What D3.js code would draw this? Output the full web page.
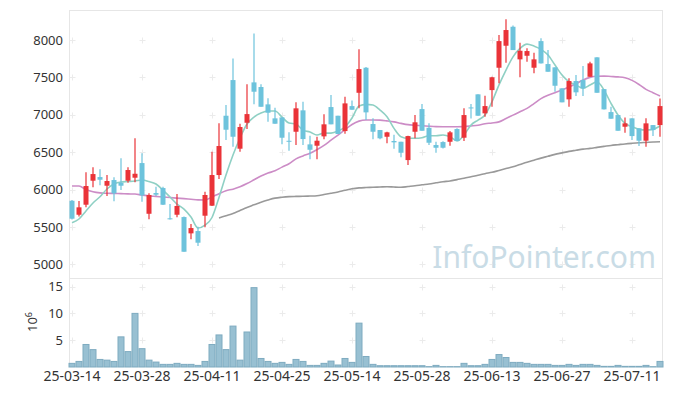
<!DOCTYPE html>
<html>
<head>
<meta charset="utf-8">
<script src="https://cdn.jsdelivr.net/npm/d3@7"></script>
<style>
  body { margin: 0; background: #fff; }
  text { font-family: "Noto Sans", sans-serif; }
</style>
</head>
<body>
<div id="chart"></div>
<script>
// trading days shown on the chart
const dates = [
  "25-03-14","25-03-17","25-03-18","25-03-19","25-03-20","25-03-21","25-03-24","25-03-25","25-03-26","25-03-27",
  "25-03-28","25-03-31","25-04-01","25-04-02","25-04-03","25-04-04","25-04-07","25-04-08","25-04-09","25-04-10",
  "25-04-11","25-04-14","25-04-15","25-04-16","25-04-17","25-04-18","25-04-21","25-04-22","25-04-23","25-04-24",
  "25-04-25","25-04-28","25-04-29","25-04-30","25-05-02","25-05-07","25-05-08","25-05-09","25-05-12","25-05-13",
  "25-05-14","25-05-15","25-05-16","25-05-19","25-05-20","25-05-21","25-05-22","25-05-23","25-05-26","25-05-27",
  "25-05-28","25-05-29","25-05-30","25-06-02","25-06-04","25-06-05","25-06-09","25-06-10","25-06-11","25-06-12",
  "25-06-13","25-06-16","25-06-17","25-06-18","25-06-19","25-06-20","25-06-23","25-06-24","25-06-25","25-06-26",
  "25-06-27","25-06-30","25-07-01","25-07-02","25-07-03","25-07-04","25-07-07","25-07-08","25-07-09","25-07-10",
  "25-07-11","25-07-14","25-07-15","25-07-16","25-07-17"
];

const opens = [
  5850,5663,5797,6118,6167,6051,6127,6091,6118,6158, 6354,5676,5953,6020,5615,5663,5632,5414,5445,5650,
  5784,6194,6987,7464,6546,6893,7433,7371,7139,6952, 6965,6652,6773,7059,6604,6586,6711,7103,6987,6782,
  7116,7294,7629,6876,6796,6706,6649,6639,6394,6773, 7076,6826,6595,6635,6639,6809,6693,7098,7273,7019,
  7330,7629,7923,8177,7741,7789,7629,7985,7678,7634, 7353,7206,7451,7464,7508,7768,7343,7036,6996,6840,
  6952,6818,6653,6862,6862
];
const highs = [
  5860,5846,6230,6297,6270,6194,6163,6417,6297,6685, 6484,5949,6038,6038,5806,5940,5640,5539,5503,5971,
  6506,6885,7130,7754,6880,7407,8088,7407,7220,7094, 6965,6765,7166,7174,6720,6706,7006,7264,6987,7241,
  7190,7875,7640,6952,6796,6773,6733,6639,6720,6996, 7143,6885,6639,6645,6782,6818,7086,7143,7273,7254,
  7510,8066,8276,8195,7963,7888,7829,8022,7865,7634, 7353,7487,7531,7651,7710,7768,7343,7107,6996,6965,
  6952,6818,6952,6862,7219
];
const lows = [
  5600,5640,5762,6030,6056,5913,5842,5993,6091,6096, 5837,5602,5913,5793,5600,5628,5168,5334,5245,5495,
  5780,6140,6662,6572,6506,6809,7139,7107,6907,6880, 6604,6519,6595,6595,6404,6404,6671,6872,6742,6746,
  7067,7086,6929,6671,6671,6618,6546,6431,6328,6685, 6786,6595,6492,6550,6586,6649,6649,6951,6987,6973,
  7107,7420,7696,7865,7500,7709,7554,7687,7575,7308, 7166,7107,7250,7250,7508,7294,7072,6947,6786,6760,
  6662,6582,6572,6715,6706
];
const closes = [
  5610,5762,6047,6207,6131,6114,5949,6051,6261,6211, 5922,5927,5931,5797,5605,5780,5168,5485,5289,5927,
  6194,6582,6800,6706,6836,7009,7308,7107,7027,6880, 6693,6645,7086,6675,6532,6653,6872,6872,6742,7152,
  7067,7611,7032,6773,6685,6765,6631,6492,6715,6899, 6786,6626,6559,6559,6765,6649,6996,7090,6987,7116,
  7501,7985,8133,7865,7856,7852,7741,7687,7575,7388, 7166,7451,7300,7353,7687,7294,7072,6947,6786,6885,
  6715,6653,6885,6795,7116
];
// volume, millions of shares
const volumes = [
  0.68,1.04,4.2,3.24,1.41,1.28,1.04,5.62,2.87,10.0, 3.42,1.28,0.92,0.49,0.49,0.68,0.49,0.49,0.3,1.04,
  4.2,5.98,3.24,7.63,1.28,6.53,14.8,1.59,1.04,0.68, 0.86,0.49,1.41,1.04,0.3,0.3,0.68,1.1,0.37,1.59,
  0.86,8.18,1.96,0.49,0.24,0.24,0.24,0.24,0.24,0.24, 0.24,0.06,0.3,0.06,0.06,0.06,0.68,0.24,0.24,0.49,
  1.41,2.32,1.77,0.86,0.86,0.68,0.49,0.49,0.49,0.3, 0.3,0.49,0.3,0.49,0.49,0.3,0.12,0.12,0.3,0.12,
  0.12,0.12,0.3,0.05,1.04
];
// moving averages as drawn
const ma5 = [
  5556,5606,5713,5820,5904,6007,6074,6100,6107,6114, 6127,6107,6074,5993,5900,5806,5739,5632,5485,5525,
  5626,5895,6194,6461,6689,6876,6969,7023,7050,7050, 6969,6889,6876,6795,6769,6729,6755,6755,6782,6836,
  6956,7116,7139,7130,7063,6973,6818,6706,6685,6685, 6693,6719,6719,6729,6706,6649,6729,6862,6929,6996,
  7174,7400,7598,7775,7888,7945,7918,7875,7798,7665, 7531,7441,7397,7353,7397,7441,7330,7153,6996,6885,
  6840,6805,6796,6805,6849
];
const ma20 = [
  6047,6047,6000,5970,5955,5950,5948,5945,5942,5940, 5925,5915,5908,5900,5893,5885,5878,5870,5862,5860,
  5900,5945,5985,6005,6037,6080,6130,6180,6220,6250, 6300,6345,6410,6450,6484,6535,6590,6660,6729,6800,
  6870,6915,6930,6930,6928,6918,6905,6885,6868,6860, 6853,6847,6842,6840,6840,6840,6842,6850,6860,6880,
  6890,6905,6950,6995,7040,7086,7150,7215,7260,7295, 7330,7370,7415,7464,7500,7515,7517,7512,7507,7495,
  7460,7405,7340,7295,7250
];
const ma60 = [
  null,null,null,null,null,null,null,null,null,null, null,null,null,null,null,null,null,null,null,null,
  null,5620,5650,5680,5720,5760,5795,5830,5860,5885, 5897,5905,5908,5910,5913,5917,5933,5950,5968,5990,
  6010,6022,6027,6030,6034,6038,6033,6030,6040,6050, 6063,6075,6090,6105,6115,6133,6150,6170,6190,6212,
  6230,6255,6280,6305,6335,6365,6392,6420,6445,6470, 6490,6510,6525,6540,6551,6564,6577,6590,6600,6610,
  6618,6625,6630,6635,6639
];

const priceTicks = [5000, 5500, 6000, 6500, 7000, 7500, 8000];
const volTicks = [5, 10, 15];
const dateTicks = dates.filter((d, i) => i % 10 === 0);

//layout
const width = 673, height = 396;
const plotLeft = 69, plotRight = 663, plotTop = 10, split = 278, plotBottom = 367;

const svg = d3.select("#chart")
  .append("svg")
  .attr("width", width)
  .attr("height", height);

const x = d3.scaleBand().domain(dates).range([plotLeft - 0.5, plotRight + 0.5]);
const step = x.step();
const cx = d => x(d) + step / 2;

const y = d3.scaleLinear().domain([4817, 8401]).range([split, plotTop]);
const yv = d3.scaleLinear().domain([0, 16.6]).range([plotBottom, split]);

// panel frames
const frame = svg.append("g").attr("stroke", "#e6e6e6").attr("fill", "none");
frame.append("rect").attr("x", plotLeft + 0.5).attr("y", plotTop + 0.5)
  .attr("width", plotRight - plotLeft - 1).attr("height", plotBottom - plotTop - 1);
frame.append("line").attr("x1", plotLeft).attr("x2", plotRight)
  .attr("y1", split + 0.5).attr("y2", split + 0.5);

// grid crosses
const crosses = [];
dateTicks.forEach(d => {
  priceTicks.forEach(v => crosses.push([cx(d), y(v)]));
  volTicks.forEach(v => crosses.push([cx(d), yv(v)]));
});
svg.append("g").selectAll("path")
  .data(crosses)
  .enter().append("path")
  .attr("d", p => `M${p[0] - 2.5},${Math.round(p[1]) + 0.5}H${p[0] + 3.5}M${p[0] + 0.5},${Math.round(p[1]) - 2.5}V${Math.round(p[1]) + 3.5}`)
  .attr("stroke", "#ebebeb")
  .attr("fill", "none");

// watermark
svg.append("text")
  .attr("x", 656).attr("y", 268)
  .attr("text-anchor", "end")
  .attr("font-size", 30)
  .attr("fill", "#c9dce6")
  .text("InfoPointer.com");

// volume bars
svg.append("g").selectAll("rect")
  .data(dates)
  .enter().append("rect")
  .attr("x", d => x(d) + 0.5)
  .attr("width", step - 1)
  .attr("y", (d, i) => yv(volumes[i]))
  .attr("height", (d, i) => plotBottom - yv(volumes[i]))
  .attr("fill", "#98c0d2")
  .attr("stroke", "#7eabc0");

// moving averages
const line = arr => d3.line()
  .defined((d, i) => arr[i] != null)
  .x(d => cx(d))
  .y((d, i) => y(arr[i]))
  .curve(d3.curveMonotoneX)(dates);

[[ma60, "#999999"], [ma20, "#cc8cc6"], [ma5, "#8fd0c4"]].forEach(([arr, c]) => {
  svg.append("path")
    .attr("d", line(arr))
    .attr("fill", "none")
    .attr("stroke", c)
    .attr("stroke-width", 1.6);
});

// candles
const up = "#ea3338", down = "#6dc3dc";
const candles = svg.append("g").selectAll("g")
  .data(dates)
  .enter().append("g");

candles.append("line")
  .attr("x1", d => cx(d)).attr("x2", d => cx(d))
  .attr("y1", (d, i) => y(highs[i]))
  .attr("y2", (d, i) => y(lows[i]))
  .attr("stroke", (d, i) => closes[i] > opens[i] ? up : down)
  .attr("stroke-width", 1.2);

candles.append("rect")
  .attr("x", d => cx(d) - 2.5)
  .attr("width", 5)
  .attr("y", (d, i) => y(Math.max(opens[i], closes[i])))
  .attr("height", (d, i) => Math.max(1, Math.abs(y(opens[i]) - y(closes[i]))))
  .attr("fill", (d, i) => closes[i] > opens[i] ? up : down);

// axes
const yAxis = d3.axisLeft(y).tickValues(priceTicks).tickFormat(d3.format("d")).tickSize(0).tickPadding(6);
const vAxis = d3.axisLeft(yv).tickValues(volTicks).tickFormat(d3.format("d")).tickSize(0).tickPadding(6);
const xAxis = d3.axisBottom(x).tickValues(dateTicks).tickSize(0).tickPadding(4);

svg.append("g").attr("class", "y-axis").attr("transform", `translate(${plotLeft},0)`).call(yAxis);
svg.append("g").attr("class", "y-axis").attr("transform", `translate(${plotLeft},0)`).call(vAxis);
svg.append("g").attr("class", "x-axis").attr("transform", `translate(0,${plotBottom})`).call(xAxis);

svg.selectAll(".domain").remove();
svg.selectAll(".tick text")
  .attr("font-family", "Noto Sans, sans-serif")
  .attr("fill", "#333");
svg.selectAll(".y-axis .tick text").attr("font-size", 13);
svg.selectAll(".x-axis .tick text").attr("font-size", 14);

// volume unit
const unit = svg.append("text")
  .attr("transform", "translate(37,322) rotate(-90)")
  .attr("text-anchor", "middle")
  .attr("font-size", 13)
  .attr("fill", "#333");
unit.append("tspan").text("10");
unit.append("tspan").attr("font-size", 9).attr("dy", -5).text("6");
</script>
</body>
</html>
